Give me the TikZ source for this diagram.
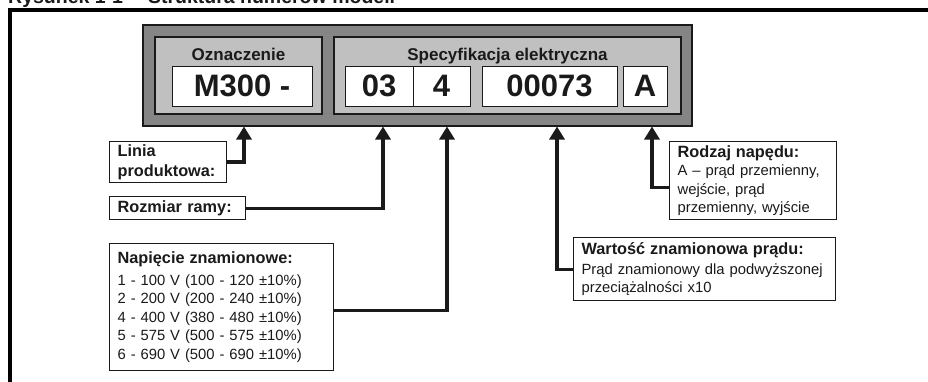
\documentclass[tikz,border=0pt]{standalone}
\usepackage{fontspec}
\setmainfont{Liberation Sans}
\usetikzlibrary{arrows.meta}
\definecolor{darkgrey}{HTML}{858585}
\definecolor{lightgrey}{HTML}{C0C0C0}
\definecolor{ink}{HTML}{1A1A1A}
\newcommand{\lbhead}{\fontsize{16.3}{20}\selectfont\bfseries}
\newcommand{\lbbody}{\fontsize{14.8}{18.5}\selectfont}
\tikzstyle{outerbox}=[draw=ink,fill=darkgrey,line width=1.3pt,inner sep=0pt]
\tikzstyle{groupbox}=[draw=ink,fill=lightgrey,line width=1.3pt,inner sep=0pt]
\tikzstyle{grouptitle}=[anchor=base,inner sep=0pt,text=ink,font=\fontsize{17}{20}\selectfont\bfseries]
\tikzstyle{fieldbox}=[draw=ink,fill=white,line width=1pt,inner sep=0pt,minimum height=40pt,text=ink,font=\fontsize{31}{31}\selectfont\bfseries]
\tikzstyle{labelbox}=[draw=ink,fill=white,line width=1.2pt,anchor=north west,align=left,inner xsep=8pt,inner ysep=0pt,text=ink,font=\lbbody]
\tikzstyle{conn}=[draw=ink,line width=3.2pt,-{Triangle[width=15pt,length=13pt]}]

\begin{document}
\begin{tikzpicture}[x=1pt,y=-1pt]
\useasboundingbox (0,0) rectangle (928,381);
\clip (0,0) rectangle (928,381);
\node[anchor=base west,inner sep=0pt,text=ink,font=\fontsize{19.5}{20}\selectfont\bfseries] (title) at (8,3.5) {Rysunek 1-1\hspace{25pt}Struktura numerów modeli};
\draw[line width=4pt,black] (10,400) -- (10,10) -- (940,10);

\node[outerbox,minimum width=549pt,minimum height=101pt] (outer) at (417.5,75.5) {};
\node[groupbox,minimum width=167pt,minimum height=77pt] (oznbox) at (238.5,75.5) {};
\node[groupbox,minimum width=347pt,minimum height=77pt] (specbox) at (507.5,75.5) {};
\node[grouptitle] (ozn) at (238.5,60) {Oznaczenie};
\node[grouptitle] (spec) at (507.5,60) {Specyfikacja elektryczna};
\node[fieldbox,minimum width=140pt] (m300) at (242,86) {M300 -};
\node[fieldbox,minimum width=68pt] (f03) at (379,86) {03};
\node[fieldbox,minimum width=57pt] (f4) at (441.5,86) {4};
\node[fieldbox,minimum width=135pt] (f00073) at (549.5,86) {00073};
\node[fieldbox,minimum width=44pt] (fA) at (645,86) {A};

\coordinate (tip1) at (244,126.5);
\coordinate (tip2) at (383,126.5);
\coordinate (tip3) at (447,126.5);
\coordinate (tip4) at (557,126.5);
\coordinate (tip5) at (652,126.5);

\node[labelbox,font=\lbhead,text width=101pt,minimum height=41pt] (linia) at (109,141) {Linia\\produktowa:};
\node[labelbox,font=\lbhead,text width=120pt,minimum height=23pt] (rozmiar) at (109,196) {Rozmiar ramy:};
\node[labelbox,text width=208pt,minimum height=127pt] (napiecie) at (109,243) {{\lbhead Napięcie znamionowe:}\\[3pt]1 - 100 V (100 - 120 ±10\%)\\2 - 200 V (200 - 240 ±10\%)\\4 - 400 V (380 - 480 ±10\%)\\5 - 575 V (500 - 575 ±10\%)\\6 - 690 V (500 - 690 ±10\%)};
\node[labelbox,text width=246pt,minimum height=63pt] (wartosc) at (573,237) {{\lbhead Wartość znamionowa prądu:}\\[1pt]Prąd znamionowy dla podwyższonej\\przeciążalności x10};
\node[labelbox,text width=151pt,minimum height=78pt] (rodzaj) at (669,141) {{\lbhead Rodzaj napędu:}\\A – prąd przemienny,\\wejście, prąd\\przemienny, wyjście};

\draw[conn,line width=4.5pt] (linia.east) -| (tip1);
\draw[conn] (rozmiar.east) -| (tip2);
\draw[conn] ([yshift=-3.5pt]napiecie.east) -| (tip3);
\draw[conn] (wartosc.west) -| (tip4);
\draw[conn] ([yshift=-7pt]rodzaj.west) -| (tip5);
\end{tikzpicture}
\end{document}
